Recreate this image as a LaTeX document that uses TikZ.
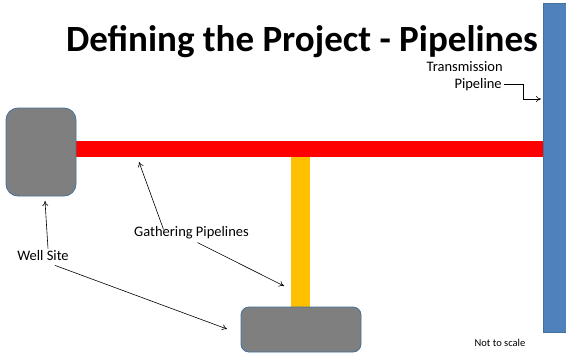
\documentclass[tikz,border=0pt]{standalone}
\usepackage{fontspec}
\setmainfont{Carlito}
\usepackage{xcolor}
\usetikzlibrary{positioning}
\usetikzlibrary{arrows.meta}
\usetikzlibrary{calc}
\usetikzlibrary{math}

\definecolor{sitegray}{HTML}{7F7F7F}
\definecolor{siteedge}{HTML}{41719C}
\definecolor{transblue}{HTML}{4F81BD}
\definecolor{transedge}{HTML}{41719C}
\definecolor{gatherred}{HTML}{FF0000}
\definecolor{gatherorange}{HTML}{FFC000}

\begin{document}
\begin{tikzpicture}[x=1pt,y=-1pt,line width=0.6pt,
    site/.style={draw=siteedge, fill=sitegray, line width=0.8pt, inner sep=0pt},
    lbl/.style={font=\fontsize{14.5}{17}\selectfont, inner sep=1pt},
    arr/.style={-{To[length=5pt,width=6pt]}, line width=0.6pt}]

  \tikzmath{
    \pipetop  = 141; % top edge of the red gathering line
    \pipebot  = 157; % bottom edge of the red gathering line
    \riserl   = 291; % left edge of the orange gathering line
    \riserr   = 310; % right edge of the orange gathering line
  }

  \useasboundingbox (0,0) rectangle (566,354);

  % title
  \node[font=\fontsize{37}{40}\selectfont\bfseries, anchor=base, inner sep=0pt] (title) at (302,51)
    {Defining the Project - Pipelines};

  % gathering lines
  \fill[gatherorange] (\riserl,155) rectangle (\riserr,310);
  \fill[gatherred] (74,\pipetop) rectangle (544,\pipebot);

  % well sites and transmission line
  \node[site, rounded corners=12pt, minimum width=70pt, minimum height=88pt] (wellA) at (41,152) {};
  \node[site, rounded corners=8pt, minimum width=120pt, minimum height=45pt] (wellB) at (301,329.5) {};
  \node[draw=transedge, fill=transblue, line width=0.8pt, inner sep=0pt,
        minimum width=25pt, minimum height=329pt] (trans) at (555.5,167.5) {};

  % labels
  \node[lbl, anchor=base east, inner sep=0pt] (transTop) at (503,71) {Transmission};
  \node[lbl, anchor=base east] (transBot) at (503,88) {Pipeline};
  \node[lbl] (gathLbl) at (191.5,233) {Gathering Pipelines};
  \node[lbl] (wellLbl) at (43,256) {Well Site};
  \node[font=\fontsize{10.5}{12}\selectfont, inner sep=1pt] (scaleLbl) at (500,343) {Not to scale};

  % arrow end points
  \coordinate (transTip) at (541,99);
  \coordinate (wellTipA) at (45,201);
  \coordinate (wellTipB) at (227,329);
  \coordinate (gathTipA) at (139,162);
  \coordinate (gathTipB) at (284,286);

  % connectors
  \draw[arr] ($(transBot.east)+(1,0)$) -| ($(transTip)+(-18,0)$) -- (transTip);
  \draw[arr] ($(wellLbl.north)+(5,-1)$) -- (wellTipA);
  \draw[arr] ($(wellLbl.south)+(12,3)$) -- (wellTipB);
  \draw[arr] ($(gathLbl.north)+(-28,4)$) -- (gathTipA);
  \draw[arr] ($(gathLbl.south)+(6,2)$) -- (gathTipB);

\end{tikzpicture}
\end{document}
